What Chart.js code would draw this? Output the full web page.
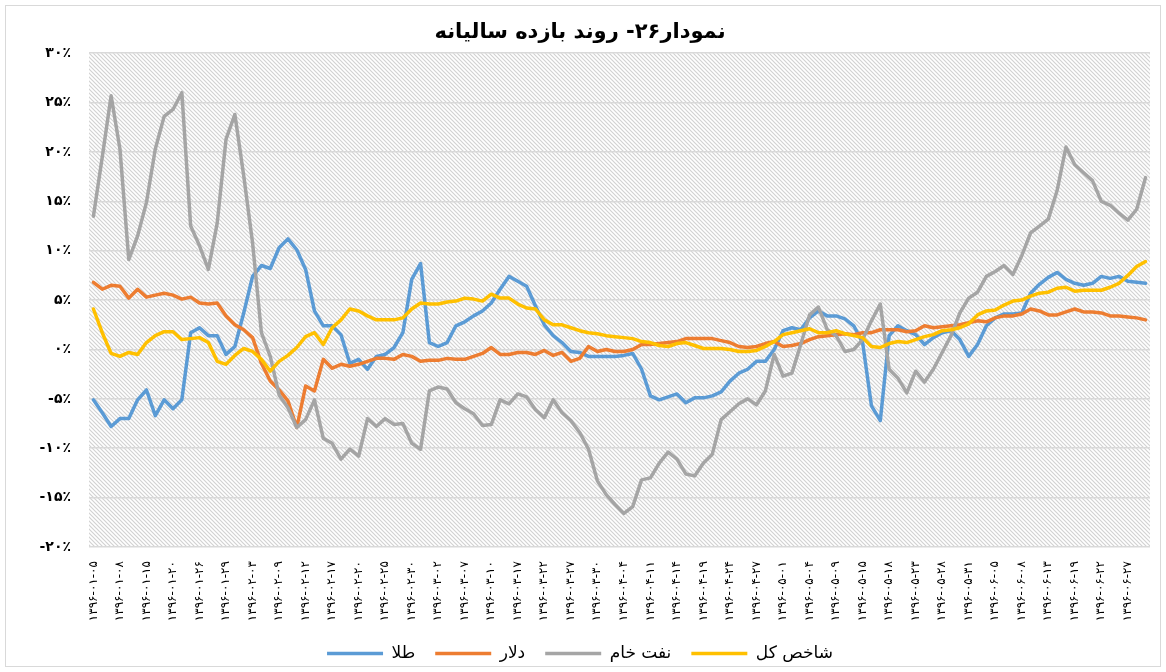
<!DOCTYPE html>
<html lang="fa">
<head>
<meta charset="utf-8">
<title>روند بازده سالیانه</title>
<script src="https://cdn.jsdelivr.net/npm/chart.js@4.4.1/dist/chart.umd.min.js"></script>
<style>
  html, body { margin: 0; padding: 0; background: #fff; }
  #chart { display: block; }
</style>
</head>
<body>
<canvas id="chart" width="1166" height="672"></canvas>
<script>
'use strict';

// chart data (annual return, percent)
const chartTitle = 'نمودار۲۶- روند بازده سالیانه';
const seriesNames = ['طلا', 'دلار', 'نفت خام', 'شاخص کل'];

// one label for every third trading day
const tickLabels = [
  '۱۳۹۶-۰۱-۰۵', '۱۳۹۶-۰۱-۰۸', '۱۳۹۶-۰۱-۱۵', '۱۳۹۶-۰۱-۲۰', '۱۳۹۶-۰۱-۲۶',
  '۱۳۹۶-۰۱-۲۹', '۱۳۹۶-۰۲-۰۳', '۱۳۹۶-۰۲-۰۹', '۱۳۹۶-۰۲-۱۲', '۱۳۹۶-۰۲-۱۷',
  '۱۳۹۶-۰۲-۲۰', '۱۳۹۶-۰۲-۲۵', '۱۳۹۶-۰۲-۳۰', '۱۳۹۶-۰۳-۰۲', '۱۳۹۶-۰۳-۰۷',
  '۱۳۹۶-۰۳-۱۰', '۱۳۹۶-۰۳-۱۷', '۱۳۹۶-۰۳-۲۲', '۱۳۹۶-۰۳-۲۷', '۱۳۹۶-۰۳-۳۰',
  '۱۳۹۶-۰۴-۰۴', '۱۳۹۶-۰۴-۱۱', '۱۳۹۶-۰۴-۱۴', '۱۳۹۶-۰۴-۱۹', '۱۳۹۶-۰۴-۲۴',
  '۱۳۹۶-۰۴-۲۷', '۱۳۹۶-۰۵-۰۱', '۱۳۹۶-۰۵-۰۴', '۱۳۹۶-۰۵-۰۹', '۱۳۹۶-۰۵-۱۵',
  '۱۳۹۶-۰۵-۱۸', '۱۳۹۶-۰۵-۲۳', '۱۳۹۶-۰۵-۲۸', '۱۳۹۶-۰۵-۳۱', '۱۳۹۶-۰۶-۰۵',
  '۱۳۹۶-۰۶-۰۸', '۱۳۹۶-۰۶-۱۳', '۱۳۹۶-۰۶-۱۹', '۱۳۹۶-۰۶-۲۲', '۱۳۹۶-۰۶-۲۷'
];

const goldReturns = [
  -5.1, -6.4, -7.8, -7.0, -7.0, -5.1, -4.1, -6.7, -5.1, -6.0,
  -5.1, 1.7, 2.2, 1.4, 1.4, -0.5, 0.3, 3.7, 7.4, 8.5,
  8.2, 10.3, 11.2, 10.1, 8.1, 3.9, 2.4, 2.4, 1.5, -1.4,
  -1.0, -2.0, -0.7, -0.5, 0.2, 1.7, 7.1, 8.7, 0.7, 0.3,
  0.7, 2.4, 2.8, 3.4, 3.9, 4.7, 6.1, 7.4, 6.9, 6.4,
  4.4, 2.5, 1.4, 0.7, -0.2, -0.3, -0.7, -0.7, -0.7, -0.7,
  -0.6, -0.4, -2.0, -4.7, -5.1, -4.8, -4.5, -5.4, -4.9, -4.9,
  -4.7, -4.3, -3.2, -2.4, -2.0, -1.2, -1.2, 0.0, 1.9, 2.2,
  2.0, 3.2, 3.9, 3.4, 3.4, 3.1, 2.4, 0.7, -5.7, -7.2,
  1.4, 2.4, 1.9, 1.5, 0.5, 1.2, 1.7, 1.9, 1.0, -0.7,
  0.5, 2.4, 3.2, 3.6, 3.6, 3.7, 5.7, 6.6, 7.3, 7.8,
  7.1, 6.7, 6.5, 6.7, 7.4, 7.2, 7.4, 6.9, 6.8, 6.7
];

const dollarReturns = [
  6.8, 6.1, 6.5, 6.4, 5.2, 6.1, 5.3, 5.5, 5.7, 5.5,
  5.1, 5.3, 4.7, 4.6, 4.7, 3.4, 2.5, 2.0, 1.2, -1.4,
  -3.2, -4.1, -5.2, -7.9, -3.7, -4.2, -1.0, -1.9, -1.5, -1.7,
  -1.5, -1.2, -0.9, -0.9, -1.0, -0.5, -0.7, -1.2, -1.1, -1.1,
  -0.9, -1.0, -1.0, -0.7, -0.4, 0.2, -0.5, -0.5, -0.3, -0.3,
  -0.5, -0.1, -0.6, -0.3, -1.2, -0.9, 0.3, -0.2, 0.0, -0.2,
  -0.2, 0.0, 0.5, 0.5, 0.6, 0.7, 0.8, 1.1, 1.1, 1.1,
  1.1, 0.9, 0.7, 0.3, 0.2, 0.3, 0.6, 0.8, 0.3, 0.4,
  0.6, 1.0, 1.3, 1.4, 1.5, 1.6, 1.5, 1.7, 1.7, 2.0,
  2.0, 2.0, 1.8, 1.9, 2.4, 2.2, 2.3, 2.4, 2.5, 2.7,
  2.9, 2.8, 3.2, 3.4, 3.4, 3.6, 4.1, 3.9, 3.5, 3.5,
  3.8, 4.1, 3.8, 3.8, 3.7, 3.4, 3.4, 3.3, 3.2, 3.0
];

const oilReturns = [
  13.5, 19.5, 25.7, 20.3, 9.1, 11.5, 14.9, 20.3, 23.6, 24.3,
  26.0, 12.5, 10.5, 8.1, 12.8, 21.3, 23.8, 17.6, 10.8, 1.7,
  -0.7, -4.6, -5.9, -7.9, -7.1, -5.1, -9.0, -9.5, -11.1, -10.1,
  -10.8, -7.0, -7.8, -7.0, -7.6, -7.5, -9.5, -10.1, -4.2, -3.8,
  -4.0, -5.4, -6.0, -6.5, -7.7, -7.6, -5.1, -5.5, -4.5, -4.8,
  -6.1, -6.9, -5.1, -6.4, -7.2, -8.4, -10.1, -13.3, -14.7, -15.7,
  -16.6, -15.9, -13.2, -13.0, -11.5, -10.4, -11.1, -12.6, -12.8, -11.5,
  -10.6, -7.1, -6.3, -5.5, -5.0, -5.6, -4.2, -0.5, -2.7, -2.4,
  0.5, 3.5, 4.3, 2.0, 1.4, -0.2, 0.0, 1.0, 2.9, 4.6,
  -2.0, -2.9, -4.4, -2.2, -3.3, -2.0, -0.3, 1.4, 3.7, 5.2,
  5.8, 7.4, 7.9, 8.5, 7.6, 9.5, 11.8, 12.5, 13.2, 16.1,
  20.5, 18.7, 17.9, 17.1, 15.0, 14.6, 13.8, 13.1, 14.2, 17.4
];

const indexReturns = [
  4.1, 1.7, -0.4, -0.7, -0.3, -0.5, 0.7, 1.4, 1.8, 1.8,
  1.0, 1.1, 1.2, 0.7, -1.2, -1.5, -0.6, 0.1, -0.2, -1.0,
  -2.2, -1.2, -0.6, 0.2, 1.3, 1.7, 0.5, 2.2, 3.0, 4.1,
  3.9, 3.4, 3.0, 3.0, 3.0, 3.2, 4.1, 4.7, 4.6, 4.6,
  4.8, 4.9, 5.2, 5.1, 4.9, 5.6, 5.2, 5.2, 4.6, 4.2,
  4.1, 3.0, 2.5, 2.5, 2.2, 1.9, 1.7, 1.6, 1.4, 1.3,
  1.2, 1.1, 0.8, 0.7, 0.4, 0.3, 0.6, 0.7, 0.4, 0.1,
  0.1, 0.1, 0.0, -0.2, -0.2, -0.1, 0.3, 0.8, 1.5, 1.7,
  1.9, 2.1, 1.7, 1.7, 1.9, 1.6, 1.4, 1.2, 0.3, 0.2,
  0.6, 0.8, 0.7, 1.0, 1.3, 1.5, 1.9, 2.0, 2.2, 2.6,
  3.5, 3.9, 4.0, 4.5, 4.9, 5.0, 5.4, 5.7, 5.8, 6.2,
  6.3, 5.9, 6.0, 6.0, 6.0, 6.3, 6.7, 7.5, 8.4, 8.9
];

const seriesColors = ['#5B9BD5', '#ED7D31', '#A5A5A5', '#FFC000'];
const persianDigits = '۰۱۲۳۴۵۶۷۸۹';
const fontFamily = "'DejaVu Sans', 'Noto Sans', sans-serif";

// every third point carries a date label
const categories = goldReturns.map((v, i) => (i % 3 === 0 && tickLabels[i / 3]) ? tickLabels[i / 3] : '');

function toPersian(num) {
  return String(num).replace(/\d/g, d => persianDigits[d]);
}

function makeHatch(ctx) {
  const tile = document.createElement('canvas');
  tile.width = 4;
  tile.height = 4;
  const g = tile.getContext('2d');
  g.fillStyle = '#ffffff';
  g.fillRect(0, 0, 4, 4);
  g.strokeStyle = '#d2d2d2';
  g.lineWidth = 1.2;
  g.beginPath();
  g.moveTo(-1, -1); g.lineTo(5, 5);
  g.moveTo(-1, 3); g.lineTo(1, 5);
  g.moveTo(3, -1); g.lineTo(5, 1);
  g.stroke();
  return ctx.createPattern(tile, 'repeat');
}

// white page, thin frame and hatched plot area
const backgroundPlugin = {
  id: 'background',
  beforeDraw(chart) {
    const {ctx, chartArea} = chart;
    ctx.save();
    ctx.fillStyle = '#ffffff';
    ctx.fillRect(0, 0, chart.width, chart.height);
    ctx.strokeStyle = '#d9d9d9';
    ctx.lineWidth = 1;
    ctx.strokeRect(5.5, 5.5, chart.width - 11, chart.height - 11);
    ctx.fillStyle = makeHatch(ctx);
    ctx.fillRect(chartArea.left, chartArea.top, chartArea.right - chartArea.left, chartArea.bottom - chartArea.top);
    ctx.restore();
  }
};

const allSeries = [goldReturns, dollarReturns, oilReturns, indexReturns];
// reversed so the last series is painted on top, legend is reversed back
const datasets = allSeries.map((data, i) => ({
  label: seriesNames[i],
  data: data,
  borderColor: seriesColors[i],
  backgroundColor: seriesColors[i],
  borderWidth: 3.5,
  pointRadius: 0,
  tension: 0,
  fill: false
})).reverse();

const ctx = document.getElementById('chart').getContext('2d');

const returnsChart = new Chart(ctx, {
  type: 'line',
  data: {
    labels: categories,
    datasets: datasets
  },
  options: {
    responsive: false,
    animation: false,
    layout: {
      padding: { top: 14, left: 10, right: 16, bottom: 0 }
    },
    elements: {
      line: { borderJoinStyle: 'round', borderCapStyle: 'round' }
    },
    plugins: {
      title: {
        display: true,
        text: chartTitle,
        color: '#000',
        font: { family: fontFamily, size: 21, weight: 'bold' },
        padding: { top: 6, bottom: 8 }
      },
      legend: {
        position: 'bottom',
        reverse: true,
        labels: {
          usePointStyle: true,
          pointStyle: 'line',
          pointStyleWidth: 56,
          color: '#000',
          font: { family: fontFamily, size: 17 },
          padding: 20
        }
      },
      tooltip: { enabled: false }
    },
    scales: {
      x: {
        offset: true,
        grid: { display: false },
        border: { display: false },
        ticks: {
          autoSkip: false,
          maxRotation: 90,
          minRotation: 90,
          padding: 6,
          color: '#000',
          font: { family: fontFamily, size: 12 },
          callback: (value, index) => categories[index]
        },
        afterFit: scale => { scale.height = 78; }
      },
      y: {
        min: -20,
        max: 30,
        border: { display: false },
        grid: { color: '#d9d9d9', lineWidth: 1.5, drawTicks: false },
        ticks: {
          stepSize: 5,
          padding: 18,
          color: '#000',
          font: { family: fontFamily, size: 14, weight: 'bold' },
          callback: value => (value < 0 ? '-' : '') + toPersian(Math.abs(value)) + '٪'
        },
        afterFit: scale => { scale.width = 79; }
      }
    }
  },
  plugins: [backgroundPlugin]
});
</script>
</body>
</html>
